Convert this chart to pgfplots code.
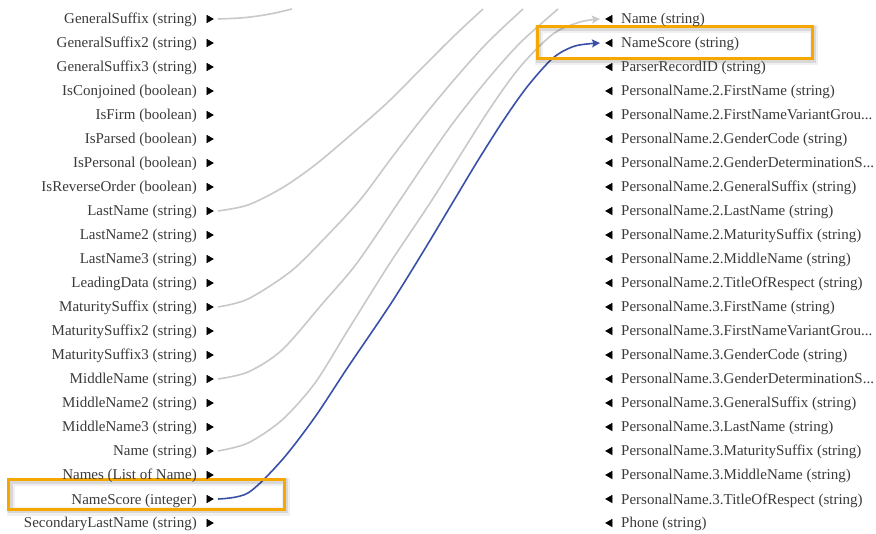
\documentclass[border=0pt]{standalone}
\usepackage{pgfplots}
\usepackage{pgfplotstable}
\pgfplotsset{compat=1.18}
\usepackage{fontspec}
\setmainfont{Liberation Serif}
\usetikzlibrary{arrows.meta}

\definecolor{linkgray}{RGB}{200,200,200}
\definecolor{linkblue}{RGB}{58,80,168}
\definecolor{hilite}{RGB}{246,168,0}
\definecolor{labelgray}{RGB}{58,58,58}

\tikzset{fieldlabel/.style={font=\fontsize{15}{18}\selectfont, text=labelgray, inner sep=0pt}}

% source fields (left column), pixel coords, y grows downwards
\pgfplotstableread[col sep=comma,row sep=\\]{
x,y,label\\
209,19,GeneralSuffix (string)\\
209,43,GeneralSuffix2 (string)\\
209,67,GeneralSuffix3 (string)\\
209,91,IsConjoined (boolean)\\
209,115,IsFirm (boolean)\\
209,139,IsParsed (boolean)\\
209,163,IsPersonal (boolean)\\
209,187,IsReverseOrder (boolean)\\
209,211,LastName (string)\\
209,235,LastName2 (string)\\
209,259,LastName3 (string)\\
209,283,LeadingData (string)\\
209,307,MaturitySuffix (string)\\
209,331,MaturitySuffix2 (string)\\
209,355,MaturitySuffix3 (string)\\
209,379,MiddleName (string)\\
209,403,MiddleName2 (string)\\
209,427,MiddleName3 (string)\\
209,451,Name (string)\\
209,475,Names (List of Name)\\
209,499,NameScore (integer)\\
209,523,SecondaryLastName (string)\\
}\sourcefields

% target fields (right column)
\pgfplotstableread[col sep=comma,row sep=\\]{
x,y,label\\
610,19,Name (string)\\
610,43,NameScore (string)\\
610,67,ParserRecordID (string)\\
610,91,PersonalName.2.FirstName (string)\\
610,115,PersonalName.2.FirstNameVariantGrou...\\
610,139,PersonalName.2.GenderCode (string)\\
610,163,PersonalName.2.GenderDeterminationS...\\
610,187,PersonalName.2.GeneralSuffix (string)\\
610,211,PersonalName.2.LastName (string)\\
610,235,PersonalName.2.MaturitySuffix (string)\\
610,259,PersonalName.2.MiddleName (string)\\
610,283,PersonalName.2.TitleOfRespect (string)\\
610,307,PersonalName.3.FirstName (string)\\
610,331,PersonalName.3.FirstNameVariantGrou...\\
610,355,PersonalName.3.GenderCode (string)\\
610,379,PersonalName.3.GenderDeterminationS...\\
610,403,PersonalName.3.GeneralSuffix (string)\\
610,427,PersonalName.3.LastName (string)\\
610,451,PersonalName.3.MaturitySuffix (string)\\
610,475,PersonalName.3.MiddleName (string)\\
610,499,PersonalName.3.TitleOfRespect (string)\\
610,523,Phone (string)\\
}\targetfields

\begin{document}
\begin{tikzpicture}
\begin{axis}[
    width=876pt, height=534pt,
    scale only axis,
    hide axis,
    xmin=0, xmax=876,
    ymin=0, ymax=534,
    y dir=reverse,
    link/.style={linkgray, line width=1.6pt, smooth, tension=0.5},
]
\coordinate (bl) at (axis cs:0,534);
\coordinate (tr) at (axis cs:876,0);

% links that leave the visible window at the top
\addplot[link] coordinates {(218,19) (240,18) (258,16) (275,13) (292,9)};
\addplot[link] coordinates {(218,211) (248,205) (282,188) (315,165) (353,133) (387,103) (420,70) (453,37) (483,9)};
\addplot[link] coordinates {(218,307) (248,299) (290,272) (323,240) (360,200) (390,160) (420,121) (453,81) (487,43) (523,9)};
\addplot[link] coordinates {(218,379) (248,372) (282,350) (323,303) (357,263) (400,200) (427,160) (453,123) (487,80) (520,43) (558,9)};

% Name -> Name
\addplot[link, -{Stealth[length=8pt,width=8pt,inset=1.5pt]}] coordinates {(218,451) (248,443) (282,420) (315,383) (348,330) (390,263) (432,200) (487,113) (520,67) (553,34) (580,22) (600,19)};

% NameScore -> NameScore (selected)
\addplot[linkblue, line width=1.6pt, smooth, tension=0.5, -{Stealth[length=8pt,width=8pt,inset=1.5pt]}] coordinates {(218,499) (248,493) (282,460) (315,417) (348,367) (390,305) (423,252) (453,202) (477,162) (503,121) (527,87) (553,58) (575,46) (600,43)};

% field markers and names
\addplot[only marks, mark=triangle*, mark size=4.4pt,
    mark options={rotate=-90, black, fill=black},
    nodes near coords, point meta=explicit symbolic,
    every node near coord/.style={fieldlabel, anchor=base east, xshift=-12pt, yshift=-5pt}]
    table[x=x, y=y, meta=label] {\sourcefields};
\addplot[only marks, mark=triangle*, mark size=4.4pt,
    mark options={rotate=90, black, fill=black},
    nodes near coords, point meta=explicit symbolic,
    every node near coord/.style={fieldlabel, anchor=base west, xshift=11pt, yshift=-5pt}]
    table[x=x, y=y, meta=label] {\targetfields};

% highlight boxes with soft shadow
\draw[black, opacity=0.06, line width=8pt] (axis cs:10.5,482.5) rectangle (axis cs:286,511.5);
\draw[black, opacity=0.10, line width=5pt] (axis cs:10,482) rectangle (axis cs:285.5,511);
\draw[hilite, line width=3pt] (axis cs:8.8,479.8) rectangle (axis cs:284.5,509.2);
\draw[black, opacity=0.06, line width=8pt] (axis cs:539,29) rectangle (axis cs:814,61);
\draw[black, opacity=0.10, line width=5pt] (axis cs:538.5,28.5) rectangle (axis cs:813.5,60.5);
\draw[hilite, line width=3pt] (axis cs:537.5,26.5) rectangle (axis cs:812.5,58.5);
\end{axis}
\pgfresetboundingbox
\useasboundingbox (bl) rectangle (tr);
\end{tikzpicture}
\end{document}
